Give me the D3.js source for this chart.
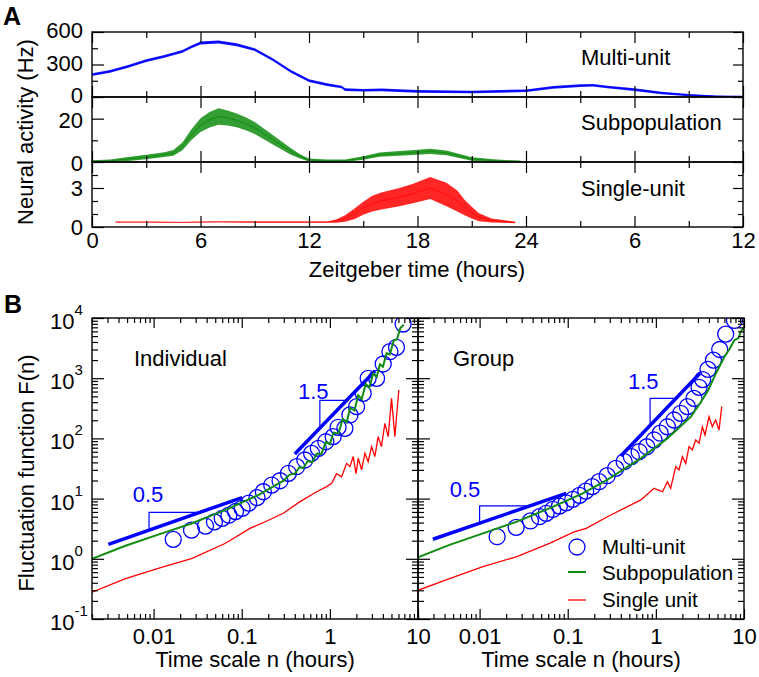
<!DOCTYPE html>
<html><head><meta charset="utf-8">
<script src="https://cdn.jsdelivr.net/npm/d3@7"></script>
<style>body{margin:0;background:#fff}</style>
</head><body><svg id="c" width="759" height="677"></svg>
<script>
// ---------------- Panel A data (hours, value, noise half-width) ----------------
const xTickValsA = [0,6,12,18,24,30,36];
const xTickLabelsA = ["0","6","12","18","24","6","12"];
const xMinorA = [3,9,15,21,27,33];

const hoursMU = [0,1,2,3,4,5,5.5,6,7,8,9,10,11,12,13,13.8,14,15,16,18,21,24,25.5,27,27.7,28.5,30,31.5,33,34.5,36];
const multiUnit = [206,237,283,335,375,421,462,498,508,483,437,345,237,151,114,92,68,62,66,52,46,58,89,105,108,92,68,37,18,6,3];
const multiSpread = [13,13,13,13,13,13,13,14,14,14,13,13,13,12,12,12,12,12,12,12,12,12,12,12,12,12,12,11,10,9,8];
const muMajor = [0,300,600], muMinor = [150,450];

const hoursSP = [0,1,2,3,4,4.5,5,5.5,6,6.5,7,7.5,8,8.5,9,10,11,11.5,12,13,14,15,15.9,17,18,18.7,19.6,21,22.4,23.7];
const subPop = [0.3,0.5,1.4,2.3,3.4,4.2,7.2,12.6,17,19.5,21,20.3,19.2,17.7,15.7,10.3,4.9,2.6,0.9,0.5,0.6,1.8,3.4,4.0,4.5,4.9,4.2,1.4,0.5,0.15];
const subSpread = [0.5,0.6,0.9,1.0,1.1,1.3,1.8,2.5,3.2,3.6,3.8,3.5,3.2,3.0,2.8,2.2,1.5,1.0,0.7,0.6,0.6,0.8,1.0,1.1,1.2,1.2,1.1,0.8,0.6,0.5];
const spMajor = [0,20], spMinor = [10,30];

const hoursSU = [1.3,3,5,7,9,11,13,13.5,14,14.5,15,15.5,16,17,17.8,18.7,19.6,20.2,20.6,21,21.4,22.1,23.4];
const singleUnit = [0.38,0.38,0.36,0.40,0.38,0.38,0.38,0.45,0.65,1.0,1.45,1.8,2.0,2.3,2.6,3.0,2.5,2.0,1.5,1.1,0.75,0.5,0.35];
const singleSpread = [0.03,0.03,0.03,0.03,0.05,0.05,0.05,0.12,0.25,0.4,0.5,0.6,0.65,0.7,0.75,0.85,0.9,0.8,0.6,0.45,0.3,0.15,0.06];
const suMajor = [0,3], suMinor = [1,2,4];

// ---------------- Panel B data (n in hours, F(n)) ----------------
const xLabelsBL = [0.01,0.1,1,10];
const xLabelsBR = [0.01,0.1,1,10];
const yExpB = [-1,0,1,2,3,4];

const indMultiN = [0.0167,0.0269,0.0388,0.049,0.060,0.0715,0.085,0.101,0.12,0.149,0.176,0.219,0.272,0.338,0.42,0.52,0.62,0.74,0.90,1.09,1.24,1.48,1.69,2.01,2.39,2.72,3.39,4.03,4.80,5.7,6.78];
const indMultiF = [2.1,3.0,3.5,4.1,4.7,5.3,6.1,6.9,8.4,10.4,13,16.8,19.8,26.3,33.9,43.8,56.5,68.4,88,107,153,147,245,337,561,995,995,1722,2757,3258,7943];
const indSubN = [0.002,0.0048,0.0115,0.0274,0.0654,0.156,0.298,0.35,0.40,0.45,0.5,0.56,0.63,0.71,0.8,0.9,1.0,1.1,1.25,1.4,1.55,1.7,1.9,2.1,2.3,2.55,2.8,3.1,3.4,3.7,4.0,4.4,4.8,5.3,5.8,6.3,6.9];
const indSubF = [1.0,1.65,2.55,3.9,6.5,11.5,19.8,25,26,33,32,42,40,56,55,87,80,125,120,210,185,320,290,520,450,800,700,1200,1050,1700,1550,2600,2500,4200,4500,6800,7700];
const indSinN = [0.002,0.0048,0.0115,0.0274,0.0654,0.124,0.17,0.296,0.458,0.71,0.92,1.05,1.19,1.36,1.55,1.69,1.84,1.98,2.10,2.29,2.50,2.72,2.97,3.24,3.53,3.85,4.21,4.59,5.01,5.46,6.06];
const indSinF = [0.28,0.47,0.70,1.02,1.81,3.2,3.9,5.7,8.9,13,15.8,18,26,23,38.5,34,50,26,47,30,56.5,41,73,50,107,73,178,107,463,107,637];

const grpMultiN = [0.0158,0.026,0.0378,0.0478,0.0569,0.0678,0.0805,0.096,0.114,0.136,0.16,0.19,0.227,0.28,0.35,0.437,0.527,0.646,0.789,0.955,1.12,1.35,1.61,1.91,2.28,2.71,3.09,3.4,3.9,4.5,5.3,6.2,7.8];
const grpMultiF = [2.33,3.33,4.25,5.0,5.7,6.6,7.5,8.5,9.7,11.3,13.3,15.8,19.1,24,31.8,41,49.7,60,72.7,94,122,156,202,261,337,463,706,950,1400,2000,3000,5400,9100];
const grpSubN = [0.002,0.00456,0.0109,0.026,0.062,0.148,0.28,0.674,1.35,2.49,3.2,3.94,4.8,6.0,6.8,7.8,8.6,9.4,10];
const grpSubF = [1.06,1.7,2.65,4.1,6.9,12.2,20.4,46.7,100,229,390,637,1200,2276,3000,4315,4600,6300,6800];
const grpSinN = [0.002,0.00456,0.0109,0.026,0.062,0.118,0.162,0.282,0.675,0.955,1.19,1.35,1.47,1.68,1.83,2.0,2.18,2.38,2.59,2.83,3.09,3.37,3.61,4.01,4.37,4.77,5.21,5.59];
const grpSinF = [0.30,0.47,0.74,1.08,1.81,2.8,3.2,5.0,9.5,14.8,13,19,14.8,34,30,50,38.5,73,64,94,83,156,114,229,156,202,138,337];

// slope guides: fitted line ends, triangle corners, label anchor
const indSlope05N = [0.00307,0.101], indSlope05F = [1.74,10.4];
const indTri05N = [0.00887,0.00887,0.0335], indTri05F = [3.0,5.9,5.9];
const indSlope15N = [0.40,3.25], indSlope15F = [55,1318];
const indTri15N = [0.77,0.77,1.55], indTri15F = [148,427,427];
const grpSlope05N = [0.00295,0.096], grpSlope05F = [2.11,12.2];
const grpTri05N = [0.01,0.01,0.037], grpTri05F = [3.9,7.6,7.6];
const grpSlope15N = [0.40,3.17], grpSlope15F = [51,1205];
const grpTri15N = [0.86,0.86,1.70], grpTri15F = [164,463,463];
const slopeLabels = ["0.5","1.5"];
const indLabelN = [0.00865,0.649], indLabelF = [8.9,447];
const grpLabelN = [0.00683,0.72], grpLabelF = [10.8,655];

// ---------------- drawing ----------------
const FONT = '"Liberation Sans", Arial, Helvetica, sans-serif';
const BLUE = '#0000ff', GREEN = '#108c10', RED = '#ff0000';
const svg = d3.select('#c');

function addAxis(axis, tx, ty){
  const g = svg.append('g').attr('transform', `translate(${tx},${ty})`).call(axis);
  g.select('.domain').remove();
  g.selectAll('.tick line').attr('stroke','#000').attr('stroke-width',1.2);
  g.selectAll('.tick text').attr('font-size',22).attr('font-family',FONT).attr('fill','#000');
  return g;
}
function txt(x,y,s,opt={}){
  const t = svg.append('text').attr('x',x).attr('y',y).attr('font-family',FONT)
    .attr('font-size',opt.size||22).attr('fill',opt.fill||'#000').text(s);
  if(opt.anchor) t.attr('text-anchor',opt.anchor);
  if(opt.weight) t.attr('font-weight',opt.weight);
  if(opt.transform) t.attr('transform',opt.transform);
  return t;
}
const blank = () => '';

// Panel A
const xA = d3.scaleLinear().domain([0,36]).range([92,743]);
const panelsA = [
  {y:d3.scaleLinear().domain([0,600]).range([97,32]), major:muMajor, minor:muMinor, h:hoursMU, v:multiUnit, s:multiSpread, color:BLUE, label:'Multi-unit', ly:65, op:0.9, dy:'0.26em', fs:22},
  {y:d3.scaleLinear().domain([0,30]).range([162,97]), major:spMajor, minor:spMinor, h:hoursSP, v:subPop, s:subSpread, color:GREEN, label:'Subpopulation', ly:130, op:0.85, dy:'0.40em', fs:22},
  {y:d3.scaleLinear().domain([0,5]).range([227,162]), major:suMajor, minor:suMinor, h:hoursSU, v:singleUnit, s:singleSpread, color:RED, label:'Single-unit', ly:196, op:0.85, dy:'0.32em', fs:22}
];
panelsA.forEach((p,k)=>{
  const [yb, yt] = p.y.range();
  const cid = 'clipA'+k;
  svg.append('clipPath').attr('id',cid).append('rect').attr('x',92).attr('y',yt).attr('width',651).attr('height',yb-yt);
  const idx = d3.range(p.h.length);
  const area = d3.area().x(i=>xA(p.h[i])).y0(i=>p.y(p.v[i]-p.s[i])).y1(i=>p.y(p.v[i]+p.s[i]));
  const line = d3.line().x(i=>xA(p.h[i])).y(i=>p.y(p.v[i]));
  const g = svg.append('g').attr('clip-path',`url(#${cid})`);
  g.append('path').datum(idx).attr('d',area).attr('fill',p.color).attr('opacity',p.op);
  g.append('path').datum(idx).attr('d',line).attr('fill','none').attr('stroke',p.color).attr('stroke-width',1).attr('opacity',k===2?0.7:1);
  const la = addAxis(d3.axisLeft(p.y).tickValues(p.major).tickSize(-12).tickPadding(9).tickFormat(d3.format('d')), 92, 0);
  la.selectAll('.tick text').attr('dy', p.dy).attr('font-size', p.fs);
  addAxis(d3.axisLeft(p.y).tickValues(p.minor).tickSize(-6).tickFormat(blank), 92, 0);
  addAxis(d3.axisRight(p.y).tickValues(p.major).tickSize(-10).tickFormat(blank), 743, 0);
  addAxis(d3.axisRight(p.y).tickValues(p.minor).tickSize(-5).tickFormat(blank), 743, 0);
  addAxis(d3.axisTop(xA).tickValues(xTickValsA).tickSize(-11).tickFormat(blank), 0, yt);
  addAxis(d3.axisTop(xA).tickValues(xMinorA).tickSize(-6).tickFormat(blank), 0, yt);
  addAxis(d3.axisBottom(xA).tickValues(xTickValsA).tickSize(-11).tickPadding(5)
    .tickFormat(k===2 ? (d,i)=>xTickLabelsA[i] : blank), 0, yb);
  addAxis(d3.axisBottom(xA).tickValues(xMinorA).tickSize(-6).tickFormat(blank), 0, yb);
  svg.append('rect').attr('x',92).attr('y',yt).attr('width',651).attr('height',yb-yt)
    .attr('fill','none').attr('stroke','#000').attr('stroke-width',1.4);
  txt(581, p.ly, p.label);
});
txt(417, 277, 'Zeitgeber time (hours)', {anchor:'middle'});
txt(0, 0, 'Neural activity (Hz)', {anchor:'middle', transform:'translate(33,132) rotate(-90)'});
txt(3, 25, 'A', {size:25, weight:'bold'});

// Panel B
const yB = d3.scaleLog().domain([0.1,1e4]).range([619,318]);
const xBL = d3.scaleLog().domain([0.002,10]).range([92,418]);
const xBR = d3.scaleLog().domain([0.002,10]).range([418,744]);
const isMajor = v => Math.abs(Math.log10(v) - Math.round(Math.log10(v))) < 1e-6;

function panelB(x, id, d, labelsX, title){
  const [x0,x1] = x.range();
  svg.append('clipPath').attr('id',id).append('rect').attr('x',x0).attr('y',318).attr('width',x1-x0).attr('height',301);
  const g = svg.append('g').attr('clip-path',`url(#${id})`);
  const ln = (N,F) => d3.line().x(i=>x(N[i])).y(i=>yB(F[i]))(d3.range(N.length));
  g.append('path').attr('d',ln(d.sinN,d.sinF)).attr('fill','none').attr('stroke',RED).attr('stroke-width',1.3);
  g.append('path').attr('d',ln(d.s05N,d.s05F)).attr('stroke',BLUE).attr('stroke-width',3.5).attr('fill','none');
  g.append('path').attr('d',ln(d.s15N,d.s15F)).attr('stroke',BLUE).attr('stroke-width',3.5).attr('fill','none');
  g.append('path').attr('d',ln(d.t05N,d.t05F)).attr('stroke',BLUE).attr('stroke-width',1.2).attr('fill','none');
  g.append('path').attr('d',ln(d.t15N,d.t15F)).attr('stroke',BLUE).attr('stroke-width',1.2).attr('fill','none');
  g.selectAll(null).data(d3.range(d.mN.length)).join('circle')
    .attr('cx',i=>x(d.mN[i])).attr('cy',i=>yB(d.mF[i])).attr('r',8)
    .attr('fill','none').attr('stroke',BLUE).attr('stroke-width',1.3);
  g.append('path').attr('d',ln(d.subN,d.subF)).attr('fill','none').attr('stroke',GREEN).attr('stroke-width',2);
  slopeLabels.forEach((s,i)=>txt(x(d.labN[i]), yB(d.labF[i]), s, {anchor:'middle', fill:BLUE}));
  const xt = x.ticks(), yt = yB.ticks();
  addAxis(d3.axisTop(x).tickValues(xt.filter(isMajor)).tickSize(-10).tickFormat(blank), 0, 318);
  addAxis(d3.axisTop(x).tickValues(xt.filter(v=>!isMajor(v))).tickSize(-5).tickFormat(blank), 0, 318);
  addAxis(d3.axisBottom(x).tickValues(xt.filter(isMajor)).tickSize(-10).tickFormat(blank), 0, 619);
  addAxis(d3.axisBottom(x).tickValues(xt.filter(v=>!isMajor(v))).tickSize(-5).tickFormat(blank), 0, 619);
  addAxis(d3.axisBottom(x).tickValues(labelsX).tickSize(0).tickPadding(9).tickFormat(d=>String(d)), 0, 619);
  addAxis(d3.axisLeft(yB).tickValues(yt.filter(isMajor)).tickSize(-12).tickFormat(blank), x0, 0);
  addAxis(d3.axisLeft(yB).tickValues(yt.filter(v=>!isMajor(v))).tickSize(-6).tickFormat(blank), x0, 0);
  addAxis(d3.axisRight(yB).tickValues(yt.filter(isMajor)).tickSize(-12).tickFormat(blank), x1, 0);
  addAxis(d3.axisRight(yB).tickValues(yt.filter(v=>!isMajor(v))).tickSize(-6).tickFormat(blank), x1, 0);
  svg.append('rect').attr('x',x0).attr('y',318).attr('width',x1-x0).attr('height',301)
    .attr('fill','none').attr('stroke','#000').attr('stroke-width',1.4);
  txt((x0+x1)/2, 667, 'Time scale n (hours)', {anchor:'middle'});
  txt(x0 + title.dx, 366, title.text);
}
panelB(xBL, 'clipBL', {mN:indMultiN,mF:indMultiF,subN:indSubN,subF:indSubF,sinN:indSinN,sinF:indSinF,
  s05N:indSlope05N,s05F:indSlope05F,s15N:indSlope15N,s15F:indSlope15F,t05N:indTri05N,t05F:indTri05F,t15N:indTri15N,t15F:indTri15F,
  labN:indLabelN,labF:indLabelF}, xLabelsBL, {text:'Individual', dx:42});
panelB(xBR, 'clipBR', {mN:grpMultiN,mF:grpMultiF,subN:grpSubN,subF:grpSubF,sinN:grpSinN,sinF:grpSinF,
  s05N:grpSlope05N,s05F:grpSlope05F,s15N:grpSlope15N,s15F:grpSlope15F,t05N:grpTri05N,t05F:grpTri05F,t15N:grpTri15N,t15F:grpTri15F,
  labN:grpLabelN,labF:grpLabelF}, xLabelsBR.filter(v=>v!==10).concat([10]), {text:'Group', dx:35});

yExpB.forEach(e=>{
  const y = yB(Math.pow(10,e));
  const t = svg.append('text').attr('x',50).attr('y',y+11).attr('font-family',FONT).attr('font-size',22).attr('fill','#000');
  t.append('tspan').text('10');
  t.append('tspan').attr('font-size',15).attr('dy',-14).text(String(e));
});
txt(0, 0, 'Fluctuation function F(n)', {anchor:'middle', transform:'translate(34,473) rotate(-90)'});
txt(4, 313, 'B', {size:25, weight:'bold'});

// legend (group panel)
svg.append('circle').attr('cx',577).attr('cy',547).attr('r',8).attr('fill','none').attr('stroke',BLUE).attr('stroke-width',1.3);
svg.append('line').attr('x1',568).attr('x2',586).attr('y1',572).attr('y2',572).attr('stroke',GREEN).attr('stroke-width',2);
svg.append('line').attr('x1',568).attr('x2',586).attr('y1',600).attr('y2',600).attr('stroke',RED).attr('stroke-width',1.3);
txt(602, 554, 'Multi-unit', {size:20.5});
txt(602, 580, 'Subpopulation', {size:20.5});
txt(602, 607, 'Single unit', {size:20.5});
</script></body></html>
